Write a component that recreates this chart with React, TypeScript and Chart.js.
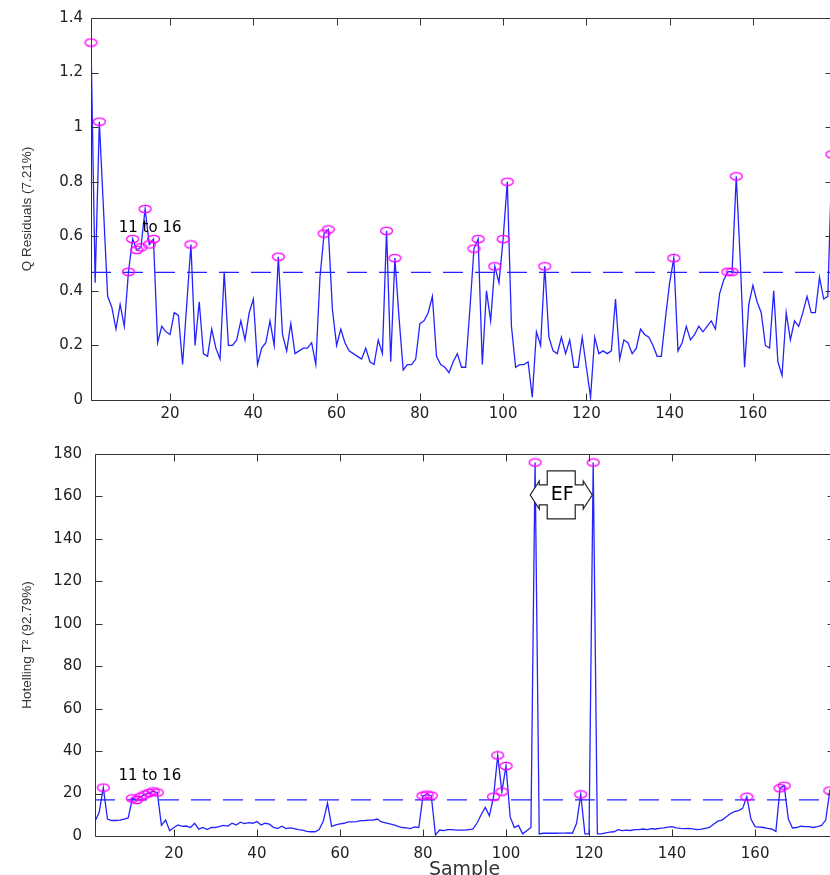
import React, { useEffect, useRef } from 'react';
import { Chart, registerables } from 'chart.js';

Chart.register(...registerables);

// ---------- data ----------
const sampleCount = 179;
const samples: number[] = Array.from({ length: sampleCount }, (_, i) => i + 1);

const qResiduals: number[] = [
  1.31, 0.43, 1.02, 0.70, 0.38, 0.34, 0.26, 0.35, 0.27, 0.47,
  0.59, 0.55, 0.56, 0.70, 0.57, 0.59, 0.21, 0.27, 0.25, 0.24,
  0.32, 0.31, 0.13, 0.35, 0.57, 0.20, 0.36, 0.17, 0.16, 0.26,
  0.19, 0.15, 0.47, 0.20, 0.20, 0.22, 0.29, 0.22, 0.32, 0.37,
  0.13, 0.19, 0.21, 0.29, 0.20, 0.525, 0.24, 0.18, 0.28, 0.17,
  0.18, 0.19, 0.19, 0.21, 0.13, 0.45, 0.61, 0.625, 0.33, 0.20,
  0.26, 0.21, 0.18, 0.17, 0.16, 0.15, 0.19, 0.14, 0.13, 0.22,
  0.17, 0.62, 0.14, 0.52, 0.30, 0.11, 0.13, 0.13, 0.15, 0.28,
  0.29, 0.32, 0.38, 0.16, 0.13, 0.12, 0.10, 0.14, 0.17, 0.12,
  0.12, 0.33, 0.555, 0.59, 0.13, 0.40, 0.29, 0.49, 0.43, 0.59,
  0.80, 0.27, 0.12, 0.13, 0.13, 0.14, 0.01, 0.25, 0.20, 0.49,
  0.23, 0.18, 0.17, 0.23, 0.17, 0.22, 0.12, 0.12, 0.23, 0.12,
  0.01, 0.23, 0.17, 0.18, 0.17, 0.18, 0.37, 0.15, 0.22, 0.21,
  0.17, 0.19, 0.26, 0.24, 0.23, 0.20, 0.16, 0.16, 0.30, 0.43,
  0.52, 0.18, 0.21, 0.27, 0.22, 0.24, 0.27, 0.25, 0.27, 0.29,
  0.26, 0.39, 0.44, 0.47, 0.47, 0.82, 0.50, 0.12, 0.35, 0.42,
  0.36, 0.32, 0.20, 0.19, 0.40, 0.14, 0.09, 0.32, 0.22, 0.29,
  0.27, 0.32, 0.38, 0.32, 0.32, 0.45, 0.37, 0.38, 0.90,
];

const hotellingT2: number[] = [
  7, 11, 22.8, 8, 7.3, 7.3, 7.5, 8, 8.5, 17.7,
  17, 18.5, 19.5, 20.3, 21, 20.5, 5, 7.5, 2.5, 4,
  5.2, 4.5, 4.7, 4, 6, 3.2, 4, 3, 4, 4,
  4.5, 5, 4.7, 6, 5.2, 6.5, 5.8, 6.3, 6, 6.8,
  5.2, 6, 5.6, 4.1, 3.5, 4.6, 3.5, 3.8, 3.5, 3,
  2.8, 2.2, 2, 2, 3, 7, 15.5, 4.5, 5.2, 5.7,
  6, 6.7, 6.7, 6.8, 7.2, 7.3, 7.5, 7.5, 8, 6.6,
  6.2, 5.7, 5.2, 4.5, 4, 3.8, 3.5, 4.3, 4, 19,
  19.5, 19, 0.5, 2.8, 2.5, 3, 3, 2.8, 2.8, 2.8,
  3, 3.2, 6, 10, 13.5, 9.5, 18.5, 38, 20.9, 33,
  9, 4, 5, 1, 2.5, 4, 176, 1, 1.3, 1.3,
  1.3, 1.3, 1.4, 1.4, 1.5, 1.3, 6, 19.6, 1, 1,
  176, 1, 1, 1.5, 1.8, 2, 3, 2.5, 2.8, 2.6,
  3, 3, 3.3, 3, 3.5, 3.3, 3.6, 3.8, 4.2, 4.4,
  3.8, 3.6, 3.5, 3.6, 3.4, 3, 3.2, 3.6, 4, 5.5,
  7, 7.5, 9, 10.5, 11.5, 12, 13, 18.5, 8, 4.4,
  4.2, 4, 3.6, 3.3, 2.2, 22.5, 23.7, 8, 3.8, 4,
  4.6, 4.4, 4.4, 4, 4.4, 5, 7.5, 21.4, 19,
];

const qLimit = 0.468;
const t2Limit = 17;

const qFlagged: number[] = [1, 3, 10, 11, 12, 13, 14, 15, 16, 25, 46, 57, 58, 72, 74, 93, 94, 98, 100, 101, 110, 141, 154, 155, 156, 179];
const t2Flagged: number[] = [3, 10, 11, 12, 13, 14, 15, 16, 80, 81, 82, 97, 98, 99, 100, 107, 118, 121, 158, 166, 167, 178];

const xTickValues: number[] = [20, 40, 60, 80, 100, 120, 140, 160];
const qTickValues: number[] = [0, 0.2, 0.4, 0.6, 0.8, 1, 1.2, 1.4];
const t2TickValues: number[] = [0, 20, 40, 60, 80, 100, 120, 140, 160, 180];

const qTitle = 'Q Residuals (7.21%)';
const t2Title = 'Hotelling T\u00B2 (92.79%)';
const xTitle = 'Sample';
const groupLabel = '11 to 16';
const calloutLabel = 'EF';

// ---------- styles ----------
const BLUE = 'rgb(35,35,255)';
const MAGENTA = 'rgb(255,0,255)';
const AXIS = '#333333';
const TICK_FONT = { family: "'DejaVu Sans', sans-serif", size: 15 };
const TITLE_FONT = { family: "'Liberation Sans', Arial, sans-serif", size: 13.5 };

function makeEllipse(): HTMLCanvasElement {
  const c = document.createElement('canvas');
  c.width = 15;
  c.height = 10;
  const g = c.getContext('2d')!;
  g.strokeStyle = MAGENTA;
  g.lineWidth = 1.3;
  g.beginPath();
  g.ellipse(7.5, 5, 6, 3.7, 0, 0, Math.PI * 2);
  g.stroke();
  return c;
}

const framePlugin = {
  id: 'frame',
  afterDatasetsDraw(chart: any) {
    const { ctx, chartArea: a, scales } = chart;
    const xs = scales.x;
    const ys = scales.y;
    const tl = 7;
    ctx.save();
    ctx.strokeStyle = AXIS;
    ctx.lineWidth = 1;
    const L = Math.round(a.left) + 0.5;
    const R = Math.round(a.right) + 0.5;
    const T = Math.round(a.top) + 0.5;
    const B = Math.round(a.bottom) + 0.5;
    ctx.beginPath();
    ctx.rect(L, T, R - L, B - T);
    for (const t of xs.ticks) {
      const p = Math.round(xs.getPixelForValue(t.value)) + 0.5;
      ctx.moveTo(p, B); ctx.lineTo(p, B - tl);
      ctx.moveTo(p, T); ctx.lineTo(p, T + tl);
    }
    for (const t of ys.ticks) {
      const p = Math.round(ys.getPixelForValue(t.value)) + 0.5;
      ctx.moveTo(L, p); ctx.lineTo(L + tl, p);
      ctx.moveTo(R, p); ctx.lineTo(R - tl, p);
    }
    ctx.stroke();
    ctx.restore();
  },
};

const notesPlugin = {
  id: 'notes',
  afterDatasetsDraw(chart: any, _args: any, opts: any) {
    const { ctx, scales } = chart;
    const xs = scales.x;
    const ys = scales.y;
    ctx.save();
    for (const n of opts.texts || []) {
      ctx.font = n.font;
      ctx.fillStyle = '#000';
      ctx.textAlign = 'center';
      ctx.textBaseline = 'middle';
      ctx.fillText(n.text, xs.getPixelForValue(n.x), ys.getPixelForValue(n.y));
    }
    const c = opts.callout;
    if (c) {
      const cx = xs.getPixelForValue(c.x);
      const cy = ys.getPixelForValue(c.y);
      const hw = 14, hh = 24, sh = 10, hd = 14, shaft = 8, head = 9;
      const L = cx - hw, R = cx + hw, T = cy - hh, B = cy + hh;
      ctx.beginPath();
      ctx.moveTo(L, T);
      ctx.lineTo(R, T);
      ctx.lineTo(R, cy - sh);
      ctx.lineTo(R + shaft, cy - sh);
      ctx.lineTo(R + shaft, cy - hd);
      ctx.lineTo(R + shaft + head, cy);
      ctx.lineTo(R + shaft, cy + hd);
      ctx.lineTo(R + shaft, cy + sh);
      ctx.lineTo(R, cy + sh);
      ctx.lineTo(R, B);
      ctx.lineTo(L, B);
      ctx.lineTo(L, cy + sh);
      ctx.lineTo(L - shaft, cy + sh);
      ctx.lineTo(L - shaft, cy + hd);
      ctx.lineTo(L - shaft - head, cy);
      ctx.lineTo(L - shaft, cy - hd);
      ctx.lineTo(L - shaft, cy - sh);
      ctx.lineTo(L, cy - sh);
      ctx.closePath();
      ctx.fillStyle = '#ffffff';
      ctx.fill();
      ctx.strokeStyle = '#222';
      ctx.lineWidth = 1.2;
      ctx.stroke();
      ctx.font = c.font;
      ctx.fillStyle = '#000';
      ctx.textAlign = 'center';
      ctx.textBaseline = 'middle';
      ctx.fillText(c.text, cx + 1, cy);
    }
    ctx.restore();
  },
};

interface PanelOpts {
  series: number[];
  limit: number;
  flagged: number[];
  yTicks: number[];
  yMax: number;
  yTitle: string;
  yWidth: number;
  yTitlePad: number;
  yLabelPad: number;
  padTop: number;
  padRight: number;
  xHeight: number;
  xLabelPad: number;
  xTitle?: string;
  texts: any[];
  callout?: any;
}

function buildConfig(o: PanelOpts, marker: HTMLCanvasElement): any {
  const last = samples[samples.length - 1];
  return {
    type: 'line',
    data: {
      datasets: [
        {
          data: o.flagged.map((s) => ({ x: s, y: o.series[s - 1] })),
          showLine: false,
          pointStyle: marker,
          pointRadius: 6,
          pointHoverRadius: 6,
          clip: false,
          order: 1,
        },
        {
          data: o.series.map((v, i) => ({ x: samples[i], y: v })),
          borderColor: BLUE,
          borderWidth: 1.3,
          pointRadius: 0,
          tension: 0,
          order: 2,
        },
        {
          data: [{ x: samples[0], y: o.limit }, { x: last, y: o.limit }],
          borderColor: BLUE,
          borderWidth: 1.3,
          borderDash: [20, 12],
          pointRadius: 0,
          order: 3,
        },
      ],
    },
    options: {
      responsive: false,
      animation: false,
      devicePixelRatio: 1,
      layout: { padding: { top: o.padTop, right: o.padRight, bottom: 0, left: 0 } },
      plugins: {
        legend: { display: false },
        tooltip: { enabled: false },
        notes: { texts: o.texts, callout: o.callout },
      },
      events: [],
      scales: {
        x: {
          type: 'linear',
          min: samples[0],
          max: last,
          grid: { display: false, drawTicks: false },
          border: { display: false },
          afterBuildTicks: (s: any) => { s.ticks = xTickValues.map((v) => ({ value: v })); },
          afterFit: (s: any) => { s.height = o.xHeight; },
          ticks: { font: TICK_FONT, color: '#222', padding: o.xLabelPad, maxRotation: 0, autoSkip: false },
          title: o.xTitle
            ? { display: true, text: o.xTitle, color: '#333', font: { family: "'DejaVu Sans', sans-serif", size: 19 }, padding: { top: 0, bottom: 9 } }
            : { display: false },
        },
        y: {
          type: 'linear',
          min: 0,
          max: o.yMax,
          grid: { display: false, drawTicks: false },
          border: { display: false },
          afterBuildTicks: (s: any) => { s.ticks = o.yTicks.map((v) => ({ value: v })); },
          afterFit: (s: any) => { s.width = o.yWidth; },
          ticks: { font: TICK_FONT, color: '#222', padding: o.yLabelPad, autoSkip: false, callback: (v: any) => String(v) },
          title: { display: true, text: o.yTitle, color: '#333', font: TITLE_FONT, padding: { top: o.yTitlePad, bottom: 0 } },
        },
      },
    },
    plugins: [framePlugin, notesPlugin],
  };
}

export default function App() {
  const topRef = useRef<HTMLCanvasElement>(null);
  const botRef = useRef<HTMLCanvasElement>(null);

  useEffect(() => {
    const marker = makeEllipse();
    const top = new Chart(topRef.current!, buildConfig({
      series: qResiduals,
      limit: qLimit,
      flagged: qFlagged,
      yTicks: qTickValues,
      yMax: 1.4,
      yTitle: qTitle,
      yWidth: 91,
      yTitlePad: 19,
      yLabelPad: 8,
      padTop: 18,
      padRight: 13,
      xHeight: 30,
      xLabelPad: 5,
      texts: [{ text: groupLabel, x: 15.2, y: 0.63, font: "15px 'DejaVu Sans', sans-serif" }],
    }, marker));
    const bot = new Chart(botRef.current!, buildConfig({
      series: hotellingT2,
      limit: t2Limit,
      flagged: t2Flagged,
      yTicks: t2TickValues,
      yMax: 180,
      yTitle: t2Title,
      yWidth: 95,
      yTitlePad: 19,
      yLabelPad: 13,
      padTop: 24,
      padRight: 11,
      xHeight: 54,
      xLabelPad: 9,
      xTitle: xTitle,
      texts: [{ text: groupLabel, x: 14.2, y: 28.3, font: "15px 'DejaVu Sans', sans-serif" }],
      callout: { x: 113.3, y: 160.7, text: calloutLabel, font: "19px 'DejaVu Sans', sans-serif" },
    }, marker));
    return () => { top.destroy(); bot.destroy(); };
  }, []);

  return (
    <div style={{ position: 'fixed', left: 0, top: 0, width: 830, height: 875, overflow: 'hidden', background: '#fff' }}>
      <canvas ref={topRef} width={845} height={430} style={{ position: 'absolute', left: 0, top: 0 }} />
      <canvas ref={botRef} width={845} height={460} style={{ position: 'absolute', left: 0, top: 430 }} />
    </div>
  );
}
